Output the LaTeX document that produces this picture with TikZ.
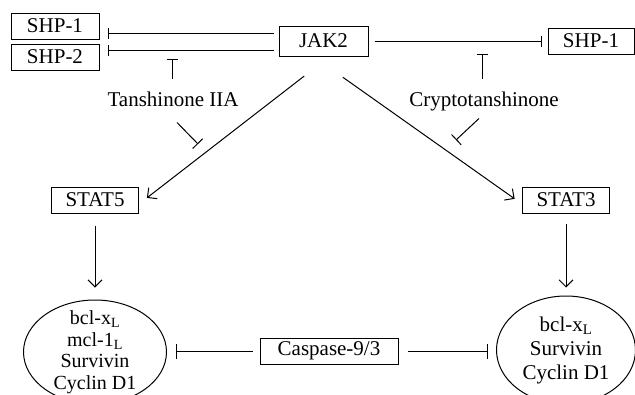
\documentclass[tikz,border=0pt]{standalone}
\usepackage{fontspec}
\setmainfont{Liberation Serif}
\usetikzlibrary{arrows.meta,shapes.geometric}

\begin{document}
\begin{tikzpicture}[
    x=1pt, y=-1pt,
    line width=1pt,
    every node/.style={font=\fontsize{21}{24}\selectfont},
    box/.style={draw, inner sep=0pt, minimum height=26pt},
    drug/.style={inner sep=0pt, text height=14pt, text depth=4pt},
    cell/.style={draw, ellipse, inner xsep=0pt, inner ysep=-10pt, align=center},
    act/.style={-{Straight Barb[length=7pt,width=14pt]}},
    inhib/.style={-{Bar[width=11pt]}},
    ]
  \useasboundingbox (0,0) rectangle (635,394);

  % proteins
  \node[box, minimum width=88pt] (shp1l) at (55,26) {SHP-1};
  \node[box, minimum width=88pt] (shp2l) at (55,57) {SHP-2};
  \node[box, minimum width=89pt, minimum height=30pt] (jak) at (323.5,41) {JAK2};
  \node[box, minimum width=86pt] (shp1r) at (591,41) {SHP-1};
  \node[box, minimum width=87pt] (stat5) at (95,200) {STAT5};
  \node[box, minimum width=87pt] (stat3) at (566,200) {STAT3};
  \node[box, minimum width=138pt] (casp) at (329,351) {Caspase-9/3};

  % drugs
  \node[drug] (tan) at (173,101) {Tanshinone IIA};
  \node[drug] (cry) at (484,101) {Cryptotanshinone};

  % targets
  \node[cell, minimum width=143pt, minimum height=104pt,
        font=\fontsize{20}{21.5}\selectfont] (ell5) at (95,352)
    {bcl-x\textsubscript{L}\\mcl-1\textsubscript{L}\\Survivin\\Cyclin D1};
  \node[cell, minimum width=139pt, minimum height=108pt] (ell3) at (566,350)
    {bcl-x\textsubscript{L}\\Survivin\\Cyclin D1};

  \coordinate (tanup) at (172,59);
  \coordinate (tandn) at (198,144);
  \coordinate (cryup) at (482,54);
  \coordinate (crydn) at (456,140);

  % JAK2 links
  \draw[inhib, shorten <=5pt, shorten >=8pt] ([yshift=8pt]jak.west) -- ([yshift=8pt]jak.west -| shp1l.east);
  \draw[inhib, shorten <=5pt, shorten >=8pt] ([yshift=-9pt]jak.west) -- ([yshift=-9pt]jak.west -| shp2l.east);
  \draw[inhib, shorten <=6pt, shorten >=6pt] (jak.east) -- (shp1r.west);
  \draw[act, shorten <=32pt, shorten >=10pt] ([xshift=6pt]jak.south) -- ([yshift=-4pt]stat5.east);
  \draw[act, shorten <=36pt, shorten >=9pt] ([xshift=-10pt]jak.south) -- ([yshift=-4pt]stat3.west);

  % drug effects
  \draw[inhib, shorten <=13pt] (tan.north -| tanup) -- (tanup);
  \draw[inhib, -{Bar[width=14pt]}] ([xshift=4pt,yshift=-12pt]tan.south) -- (tandn);
  \draw[inhib, shorten <=13pt] (cry.north -| cryup) -- (cryup);
  \draw[inhib, -{Bar[width=14pt]}] ([xshift=-5pt,yshift=-8pt]cry.south) -- (crydn);

  % STAT targets
  \draw[act, shorten <=12pt, shorten >=12pt] (stat5.south) -- (ell5.north);
  \draw[act, shorten <=10pt, shorten >=8pt] (stat3.south) -- (ell3.north);
  \draw[inhib, -{Bar[width=15pt]}, shorten <=7pt, shorten >=9pt] (casp.west) -- (casp.west -| ell5.east);
  \draw[inhib, -{Bar[width=15pt]}, shorten <=9pt, shorten >=8pt] (casp.east) -- (casp.east -| ell3.west);
\end{tikzpicture}
\end{document}
